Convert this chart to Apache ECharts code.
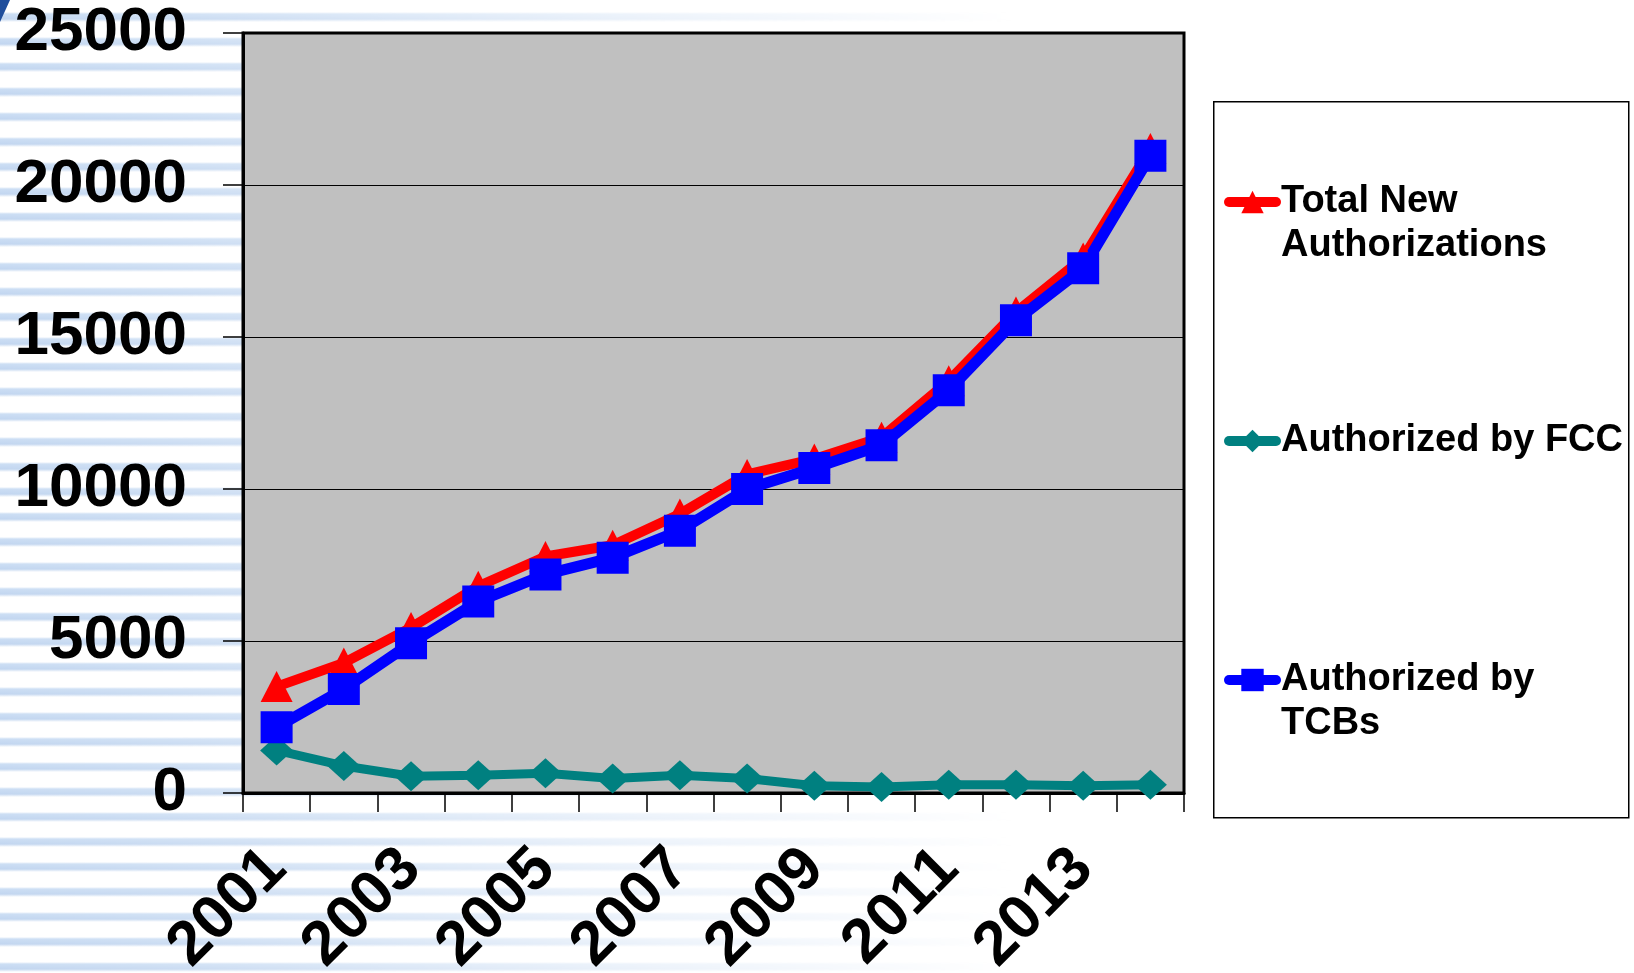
<!DOCTYPE html>
<html>
<head>
<meta charset="utf-8">
<script src="https://cdn.jsdelivr.net/npm/echarts@6/dist/echarts.min.js"></script>
<style>
  html, body { margin:0; padding:0; width:1634px; height:973px; overflow:hidden; background:#fff; }
  #bg { position:absolute; left:0; top:0; width:1634px; height:973px;
    background: repeating-linear-gradient(180deg, rgba(255,255,255,0) 0px, rgba(255,255,255,0) 12px, #c9dcf3 14px, #bfd4ef 19px, rgba(255,255,255,0) 22px, rgba(255,255,255,0) 25px);
    -webkit-mask-image: linear-gradient(90deg, rgba(0,0,0,0.95) 0%, rgba(0,0,0,0.8) 12%, rgba(0,0,0,0.3) 40%, rgba(0,0,0,0) 62%);
    mask-image: linear-gradient(90deg, rgba(0,0,0,0.95) 0%, rgba(0,0,0,0.8) 12%, rgba(0,0,0,0.3) 40%, rgba(0,0,0,0) 62%);
  }
  #corner { position:absolute; left:0; top:0; width:0; height:0; border-top:22px solid #1f4e9c; border-right:10px solid transparent; }
  #chart { position:absolute; left:0; top:0; width:1634px; height:973px; }
</style>
</head>
<body>
<div id="bg"></div>
<div id="corner"></div>
<div id="chart"></div>
<script>
const years = ['2001','2002','2003','2004','2005','2006','2007','2008','2009','2010','2011','2012','2013','2014'];
const totalNew = [3500, 4280, 5440, 6800, 7780, 8150, 9180, 10480, 10990, 11700, 13560, 15820, 17600, 21200];
const byFCC = [1400, 890, 550, 580, 650, 480, 580, 480, 240, 200, 270, 270, 240, 270];
const byTCBs = [2160, 3420, 4930, 6300, 7190, 7740, 8630, 10000, 10690, 11440, 13250, 15550, 17260, 20960];
const yTicks = { min: 0, max: 25000, interval: 5000 };
const legendNames = {
  'Total New Authorizations': '\nTotal New\nAuthorizations',
  'Authorized by FCC': 'Authorized by FCC',
  'Authorized by TCBs': '\nAuthorized by\nTCBs'
};

const chart = echarts.init(document.getElementById('chart'), null, { renderer: 'canvas' });
const font = 'Liberation Sans, Arial, sans-serif';
chart.setOption({
  backgroundColor: 'transparent',
  animation: false,
  textStyle: { fontFamily: font },
  graphic: [{
    type: 'rect', left: 1213, top: 101, z: -1,
    shape: { width: 415, height: 716 },
    style: { fill: '#fff', stroke: '#000', lineWidth: 1.5 }
  }],
  grid: {
    left: 243, right: 450, top: 33, bottom: 180,
    containLabel: false, outerBoundsMode: 'none',
    show: true, backgroundColor: '#c0c0c0', borderColor: '#000', borderWidth: 3
  },
  legend: {
    orient: 'vertical', left: 1224, top: 136, itemGap: 151, padding: 0,
    itemWidth: 47, itemHeight: 28,
    lineStyle: { width: 10, cap: 'round' },
    formatter: n => legendNames[n],
    textStyle: { fontFamily: font, fontWeight: 'bold', fontSize: 38, color: '#000', lineHeight: 44, padding: [0,0,0,0] },
    data: ['Total New Authorizations', 'Authorized by FCC', 'Authorized by TCBs']
  },
  xAxis: {
    type: 'category', data: years, boundaryGap: true,
    axisLine: { lineStyle: { color: '#000', width: 3 } },
    axisTick: { show: true, interval: 0, length: 19, lineStyle: { color: '#000', width: 1.5 } },
    axisLabel: { interval: 1, rotate: 45, margin: 66, fontSize: 62, fontWeight: 'bold', color: '#000', fontFamily: font }
  },
  yAxis: {
    type: 'value', min: yTicks.min, max: yTicks.max, interval: yTicks.interval,
    axisLine: { show: true, lineStyle: { color: '#000', width: 3 } },
    axisTick: { show: true, length: 20, lineStyle: { color: '#000', width: 1.5 } },
    axisLabel: { margin: 56, fontSize: 62, fontWeight: 'bold', color: '#000', fontFamily: font, formatter: v => String(v) },
    splitLine: { show: true, lineStyle: { color: '#000', width: 1.2 } }
  },
  series: [
    { name: 'Total New Authorizations', type: 'line', data: totalNew,
      symbol: 'triangle', symbolSize: [32, 31],
      lineStyle: { color: '#ff0000', width: 10 }, itemStyle: { color: '#ff0000' } },
    { name: 'Authorized by FCC', type: 'line', data: byFCC,
      symbol: 'diamond', symbolSize: [33, 30],
      lineStyle: { color: '#008080', width: 9 }, itemStyle: { color: '#008080' } },
    { name: 'Authorized by TCBs', type: 'line', data: byTCBs,
      symbol: 'rect', symbolSize: 32,
      lineStyle: { color: '#0000ff', width: 11 }, itemStyle: { color: '#0000ff' } }
  ]
});
</script>
</body>
</html>
